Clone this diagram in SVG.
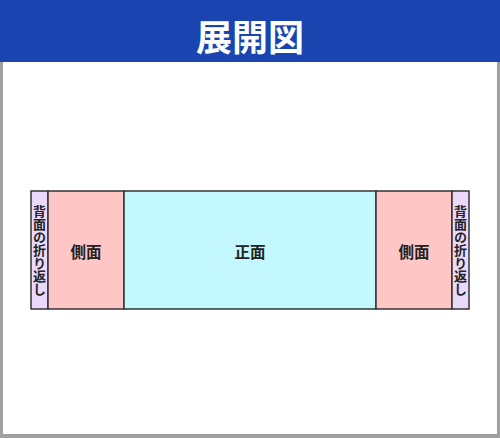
<svg xmlns="http://www.w3.org/2000/svg" width="500" height="438" viewBox="0 0 500 438">
<style>
.t{font-family:"Noto Sans CJK JP","Noto Sans",sans-serif;font-weight:bold;fill:#222}
.panel{stroke:#333;stroke-width:1.5}
.flap{fill:#ead9fb}
.side{fill:#ffc6c6}
.front{fill:#c2f8fe}
.lbl{font-size:15.5px}
</style>
<rect x="0" y="0" width="500" height="438" fill="#a0a0a0"/>
<rect x="3" y="62" width="494" height="372" fill="#ffffff"/>
<rect x="0" y="0" width="500" height="62" fill="#1a44b0"/>
<text x="250" y="51" text-anchor="middle" font-family="'Noto Sans CJK JP',sans-serif" font-weight="bold" font-size="36" fill="#ffffff">展開図</text>
<g id="flap-left"><rect class="panel flap" x="31" y="191" width="17" height="118"/><text class="t" x="39.5" y="250" font-size="13" writing-mode="vertical-rl" text-anchor="middle">背面の折り返し</text></g>
<g id="side-left"><rect class="panel side" x="48" y="191" width="76" height="118"/><text class="t lbl" x="86" y="258" text-anchor="middle">側面</text></g>
<g id="front"><rect class="panel front" x="124" y="191" width="252" height="118"/><text class="t lbl" x="250" y="258" text-anchor="middle">正面</text></g>
<g id="side-right"><rect class="panel side" x="376" y="191" width="76" height="118"/><text class="t lbl" x="414" y="258" text-anchor="middle">側面</text></g>
<g id="flap-right"><rect class="panel flap" x="452" y="191" width="17" height="118"/><text class="t" x="460.5" y="250" font-size="13" writing-mode="vertical-rl" text-anchor="middle">背面の折り返し</text></g>
<g id="connectors"></g>
</svg>
